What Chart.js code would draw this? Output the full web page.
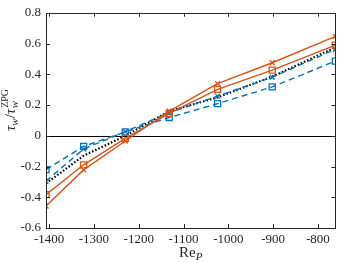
<!DOCTYPE html>
<html>
<head>
<meta charset="utf-8">
<script src="https://cdn.jsdelivr.net/npm/chart.js@4/dist/chart.umd.min.js"></script>
<style>
  html,body{margin:0;padding:0;background:#fff;}
  #wrap{width:341px;height:263px;}
</style>
</head>
<body>
<div id="wrap"><canvas id="myChart" width="341" height="263"></canvas></div>
<script>
'use strict';
// Re_P positions of the runs
const reP = [-1407, -1323, -1230, -1132, -1024, -902, -761];
// tau_w / tau_w^ZPG
const orangeCross = [-0.457, -0.222, -0.034, 0.161, 0.339, 0.475, 0.647];
const orangeSquare = [-0.383, -0.189, -0.017, 0.146, 0.302, 0.427, 0.590];
const blueCross = [-0.295, -0.086, 0.027, 0.150, 0.258, 0.381, 0.563];
const blueSquare = [-0.220, -0.069, 0.025, 0.119, 0.209, 0.318, 0.486];
const blackDotted = [-0.310, -0.130, 0.000, 0.160, 0.250, 0.385, 0.575];

const xTicks = [-1400, -1300, -1200, -1100, -1000, -900, -800];
const yTicks = [-0.6, -0.4, -0.2, 0, 0.2, 0.4, 0.6, 0.8];

const orange = '#D95319';
const blue = '#0072BD';
const axisCol = '#262626';
const serif = '"Liberation Serif", "DejaVu Serif", serif';

function pts(ys){
  return ys.map((y, i) => ({x: reP[i], y: y}));
}

// box, inward ticks, zero line and axis titles
const boxPlugin = {
  id: 'boxPlugin',
  beforeDatasetsDraw(chart){
    const ctx = chart.ctx;
    const a = chart.chartArea;
    const ys = chart.scales.y;
    const y0 = Math.round(ys.getPixelForValue(0)) + 0.5;
    ctx.save();
    ctx.strokeStyle = '#000';
    ctx.lineWidth = 1;
    ctx.beginPath();
    ctx.moveTo(a.left, y0);
    ctx.lineTo(a.right, y0);
    ctx.stroke();
    ctx.restore();
  },
  afterDraw(chart){
    const ctx = chart.ctx;
    const a = chart.chartArea;
    const xs = chart.scales.x;
    const ys = chart.scales.y;
    const tl = 4;
    ctx.save();
    ctx.strokeStyle = axisCol;
    ctx.lineWidth = 1;
    ctx.strokeRect(Math.round(a.left) + 0.5, Math.round(a.top) + 0.5,
      Math.round(a.right - a.left), Math.round(a.bottom - a.top));
    ctx.beginPath();
    xTicks.forEach(v => {
      const px = Math.round(xs.getPixelForValue(v)) + 0.5;
      ctx.moveTo(px, a.bottom); ctx.lineTo(px, a.bottom - tl);
      ctx.moveTo(px, a.top); ctx.lineTo(px, a.top + tl);
    });
    yTicks.forEach(v => {
      const py = Math.round(ys.getPixelForValue(v)) + 0.5;
      ctx.moveTo(a.left, py); ctx.lineTo(a.left + tl, py);
      ctx.moveTo(a.right, py); ctx.lineTo(a.right - tl, py);
    });
    ctx.stroke();

    // x title: Re_P
    ctx.fillStyle = axisCol;
    ctx.textBaseline = 'alphabetic';
    ctx.textAlign = 'left';
    const big = '15px ' + serif;
    const bigI = 'italic 15px ' + serif;
    const smallI = 'italic 11px ' + serif;
    const small = '10px ' + serif;
    ctx.font = big;
    const wRe = ctx.measureText('Re').width;
    ctx.font = smallI;
    const wP = ctx.measureText('P').width;
    let x0 = (a.left + a.right) / 2 - (wRe + wP) / 2;
    const by = 257;
    ctx.font = big;
    ctx.fillText('Re', x0, by);
    ctx.font = smallI;
    ctx.fillText('P', x0 + wRe, by + 3);

    // y title: tau_w / tau_w^ZPG
    ctx.translate(15, 110);
    ctx.rotate(-Math.PI / 2);
    const parts = [
      {t: '\u03C4', f: bigI, dy: 0},
      {t: 'w', f: smallI, dy: 3},
      {t: '/', f: big, dy: 0},
      {t: '\u03C4', f: bigI, dy: 0}
    ];
    let total = 0;
    parts.forEach(p => { ctx.font = p.f; p.w = ctx.measureText(p.t).width; total += p.w; });
    ctx.font = small;
    const wZ = ctx.measureText('ZPG').width;
    total += wZ + 1;
    let cx = -total / 2;
    parts.forEach(p => {
      ctx.font = p.f;
      ctx.fillText(p.t, cx, p.dy);
      cx += p.w;
    });
    ctx.font = smallI;
    ctx.fillText('w', cx + 0.5, 3);
    ctx.font = small;
    ctx.fillText('ZPG', cx + 1, -7);
    ctx.restore();
  }
};

const ctx = document.getElementById('myChart').getContext('2d');
const myChart = new Chart(ctx, {
  type: 'scatter',
  data: {
    datasets: [{
      label: 'orange cross',
      data: pts(orangeCross),
      showLine: true,
      borderColor: orange,
      borderWidth: 1.4,
      pointStyle: 'crossRot',
      pointRadius: 3.5,
      pointBorderColor: orange,
      pointBorderWidth: 1.3
    },{
      label: 'orange square',
      data: pts(orangeSquare),
      showLine: true,
      borderColor: orange,
      borderWidth: 1.4,
      pointStyle: 'rect',
      pointRadius: 4.3,
      pointBackgroundColor: 'rgba(0,0,0,0)',
      pointBorderColor: orange,
      pointBorderWidth: 1.3
    },{
      label: 'blue cross',
      data: pts(blueCross),
      showLine: true,
      borderColor: blue,
      borderWidth: 1.4,
      borderDash: [6, 4],
      pointStyle: 'crossRot',
      pointRadius: 3.5,
      pointBorderColor: blue,
      pointBorderWidth: 1.3
    },{
      label: 'blue square',
      data: pts(blueSquare),
      showLine: true,
      borderColor: blue,
      borderWidth: 1.4,
      borderDash: [6, 4],
      pointStyle: 'rect',
      pointRadius: 4.3,
      pointBackgroundColor: 'rgba(0,0,0,0)',
      pointBorderColor: blue,
      pointBorderWidth: 1.3
    },{
      label: 'black dotted',
      data: pts(blackDotted),
      showLine: true,
      borderColor: '#000',
      borderWidth: 2.2,
      borderDash: [1.5, 2],
      pointRadius: 0
    }]
  },
  options: {
    responsive: false,
    animation: false,
    layout: {padding: {top: 5, right: 4, left: 0, bottom: 0}},
    plugins: {legend: {display: false}, tooltip: {enabled: false}},
    scales: {
      x: {
        type: 'linear',
        min: -1407,
        max: -761,
        afterBuildTicks: s => { s.ticks = xTicks.map(v => ({value: v})); },
        afterFit: s => { s.height = 35; },
        grid: {display: false, drawTicks: false},
        border: {display: false},
        ticks: {
          padding: 4,
          color: axisCol,
          font: {family: serif, size: 13},
          maxRotation: 0,
          callback: v => String(v)
        }
      },
      y: {
        min: -0.6,
        max: 0.8,
        afterBuildTicks: s => { s.ticks = yTicks.map(v => ({value: v})); },
        afterFit: s => { s.width = 46; },
        grid: {display: false, drawTicks: false},
        border: {display: false},
        ticks: {
          padding: 5,
          color: axisCol,
          font: {family: serif, size: 13},
          callback: v => (Math.abs(v) < 1e-9 ? '0' : String(Math.round(v * 10) / 10))
        }
      }
    }
  },
  plugins: [boxPlugin]
});
</script>
</body>
</html>
